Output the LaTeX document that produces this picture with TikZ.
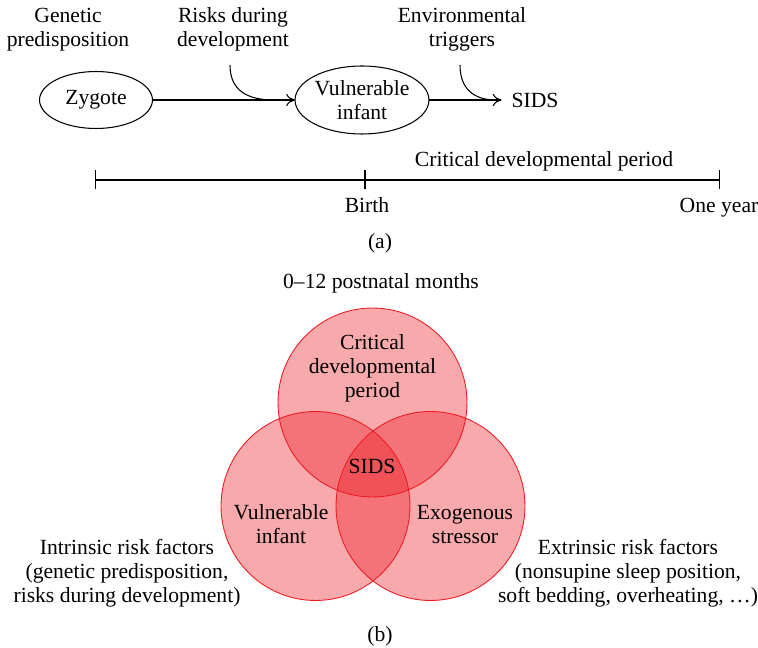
\documentclass[tikz,border=0pt]{standalone}
\usepackage{fontspec}
\setmainfont{Liberation Serif}
\usetikzlibrary{shapes.geometric,arrows.meta}
\definecolor{vennred}{RGB}{237,28,36}

\begin{document}
\begin{tikzpicture}[x=0.02cm,y=-0.02cm,
    font=\fontsize{12.3}{13.9}\selectfont,
    every node/.style={inner sep=0pt,outer sep=0pt},
    lbl/.style={align=center,anchor=base},
    oval/.style={draw,ellipse,align=center,line width=0.6pt},
    flow/.style={line width=0.6pt,-{To[length=5pt,width=7pt]}},
    venn/.style={circle,minimum size=3.78cm,draw=vennred,fill=vennred,
      fill opacity=0.38,line width=0.5pt}]
  \useasboundingbox (0,0) rectangle (758,648);

  % (a) pathway
  \node[lbl] (gen) at (68,47) {Genetic\\predisposition};
  \node[lbl] (risk) at (233,47) {Risks during\\development};
  \node[lbl] (env) at (462,47) {Environmental\\triggers};

  \node[oval,minimum width=2.26cm,minimum height=1.14cm] (zyg) at (96,100) {Zygote};
  \node[oval,minimum width=2.2cm,minimum height=1.36cm] (vul) at (362,100) {Vulnerable\\infant};
  \node[inner sep=0.2cm] (sids) at (535,100) {SIDS};

  \coordinate (risktop) at (230,65);
  \coordinate (riskjoin) at (274,100);
  \coordinate (envtop) at (460,65);
  \coordinate (envjoin) at (496,100);

  \draw[flow] (zyg) -- (vul);
  \draw[flow] (vul) -- (sids);
  \draw[line width=0.6pt] (risktop) .. controls +(0,26) and +(-26,0) .. (riskjoin);
  \draw[line width=0.6pt] (envtop) .. controls +(0,24) and +(-22,0) .. (envjoin);

  % timeline
  \coordinate (t0) at (94.5,180);
  \coordinate (tb) at (365,180);
  \coordinate (t1) at (720,180);
  \draw[line width=0.6pt,{Bar[width=0.38cm]}-{Bar[width=0.38cm]}] (t0) -- (t1);
  \draw[line width=0.6pt] (tb) ++(0,-9.5) -- ++(0,19);

  \node[lbl] (crit) at (544,167) {Critical developmental period};
  \node[lbl] (birth) at (367,212.5) {Birth};
  \node[lbl] (year) at (719,212.5) {One year};
  \node[lbl] (capa) at (380,249) {(a)};

  % (b) venn
  \node[lbl] (months) at (381,289) {0--12 postnatal months};

  \node[venn] (ctop) at (372.5,402.5) {};
  \node[venn] (cleft) at (315.5,506) {};
  \node[venn] (cright) at (430.5,506) {};

  \node[lbl] (period) at (372.5,398) {Critical\\developmental\\period};
  \node[lbl] (vsids) at (372,474) {SIDS};
  \node[lbl] (vinf) at (281,544) {Vulnerable\\infant};
  \node[lbl] (exo) at (465,544) {Exogenous\\stressor};

  \node[lbl] (intr) at (127,603) {Intrinsic risk factors\\(genetic predisposition,\\risks during development)};
  \node[lbl] (extr) at (628,603) {Extrinsic risk factors\\(nonsupine sleep position,\\soft bedding, overheating, \dots)};
  \node[lbl] (capb) at (380,642) {(b)};
\end{tikzpicture}
\end{document}
